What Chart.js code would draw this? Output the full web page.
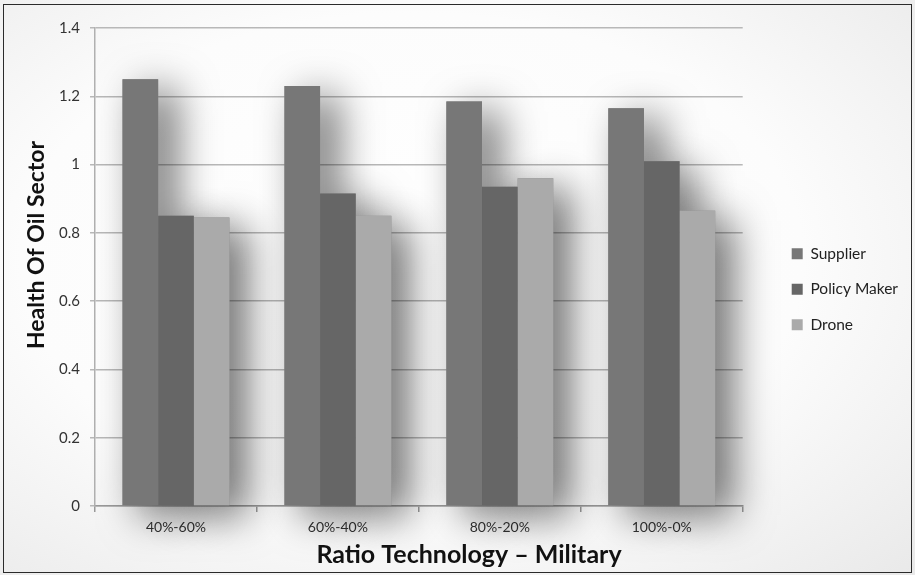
<!DOCTYPE html>
<html>
<head>
<meta charset="utf-8">
<title>Health Of Oil Sector</title>
<script src="https://cdn.jsdelivr.net/npm/chart.js@4.4.0/dist/chart.umd.min.js"></script>
<style>
  html, body { margin: 0; padding: 0; background: #fff; }
  #wrap {
    position: relative; width: 915px; height: 575px; overflow: hidden;
    background: radial-gradient(ellipse at 45% 45%, #ffffff 0%, #fcfcfc 55%, #e9e9e9 100%);
  }
  #frame {
    position: absolute; left: 3px; top: 4px; width: 909px; height: 569px;
    box-sizing: border-box; border: 1.5px solid #2b2b2b; pointer-events: none;
  }
  canvas { position: absolute; left: 0; top: 0; }
</style>
</head>
<body>
<div id="wrap">
  <canvas id="chart" width="915" height="575"></canvas>
  <div id="frame"></div>
</div>
<script>
// ----- Data -----
const categories = ["40%-60%", "60%-40%", "80%-20%", "100%-0%"];
const seriesNames = ["Supplier", "Policy Maker", "Drone"];
const supplier = [1.25, 1.23, 1.185, 1.165];
const policyMaker = [0.85, 0.915, 0.935, 1.01];
const drone = [0.845, 0.85, 0.96, 0.865];
const yMin = 0, yMax = 1.4, yStep = 0.2;
const xTitle = "Ratio Technology \u2013 Military";
const yTitle = "Health Of Oil Sector";

// ----- Style -----
const FONT = "Lato, 'Open Sans', sans-serif";
const colors = ["#777777", "#666666", "#aaaaaa"];

// soft drop shadow: drawn in its own pass so it never darkens the bars
const barShadow = {
  id: "barShadow",
  beforeDatasetsDraw(chart) {
    const ctx = chart.ctx;
    ctx.save();
    ctx.shadowColor = "rgba(0,0,0,0.6)";
    ctx.shadowBlur = 40;
    ctx.shadowOffsetX = 17;
    ctx.shadowOffsetY = 10;
    ctx.fillStyle = "#888";
    chart.data.datasets.forEach((ds, i) => {
      chart.getDatasetMeta(i).data.forEach((bar) => {
        ctx.fillRect(bar.x - bar.width / 2, bar.y, bar.width, bar.base - bar.y);
      });
    });
    ctx.restore();
  }
};

// axis titles, centred on the whole picture like the original
const axisTitles = {
  id: "axisTitles",
  afterDraw(chart) {
    const ctx = chart.ctx;
    ctx.save();
    ctx.fillStyle = "#111";
    ctx.textAlign = "center";
    ctx.textBaseline = "middle";
    ctx.font = "bold 25px " + FONT;
    ctx.fillText(xTitle, 469, 555);
    ctx.translate(37, 245);
    ctx.rotate(-Math.PI / 2);
    ctx.font = "bold 23px " + FONT;
    ctx.fillText(yTitle, 0, 0);
    ctx.restore();
  }
};

function makeDataset(label, data, color) {
  return {
    label: label,
    data: data,
    backgroundColor: color,
    borderWidth: 0,
    barPercentage: 1,
    categoryPercentage: 0.66
  };
}

new Chart(document.getElementById("chart").getContext("2d"), {
  type: "bar",
  data: {
    labels: categories,
    datasets: [
      makeDataset(seriesNames[0], supplier, colors[0]),
      makeDataset(seriesNames[1], policyMaker, colors[1]),
      makeDataset(seriesNames[2], drone, colors[2])
    ]
  },
  plugins: [barShadow, axisTitles],
  options: {
    responsive: false,
    animation: false,
    layout: { padding: { left: 0, top: 28, right: 7, bottom: 0 } },
    plugins: {
      tooltip: { enabled: false },
      legend: {
        position: "right",
        fullSize: false,
        title: { display: true, text: "", padding: { top: 15, bottom: 15 }, font: { size: 12 } },
        labels: {
          boxWidth: 11,
          boxHeight: 11,
          padding: 20,
          color: "#222",
          font: { family: FONT, size: 15.5 }
        }
      }
    },
    scales: {
      x: {
        grid: { offset: true, drawOnChartArea: false, color: "#9a9a9a", lineWidth: 1.5, tickLength: 6 },
        border: { color: "#9a9a9a", width: 1.5 },
        ticks: { color: "#333", padding: 7, font: { family: FONT, size: 14 } },
        afterFit(s) { s.height = 69; }
      },
      y: {
        min: yMin,
        max: yMax,
        grid: { color: "#b8b8b8", lineWidth: 1.5, tickLength: 5 },
        border: { color: "#b0b0b0", width: 1.5 },
        ticks: {
          stepSize: yStep,
          color: "#333",
          padding: 10,
          font: { family: FONT, size: 15 },
          callback: (v) => String(Number(v.toFixed(1)))
        },
        afterFit(s) { s.width = 95; }
      },
      spacer: {
        axis: "y",
        position: "right",
        display: true,
        grid: { display: false },
        border: { display: false },
        ticks: { display: false },
        afterFit(s) { s.width = 29; }
      }
    }
  }
});
</script>
</body>
</html>
